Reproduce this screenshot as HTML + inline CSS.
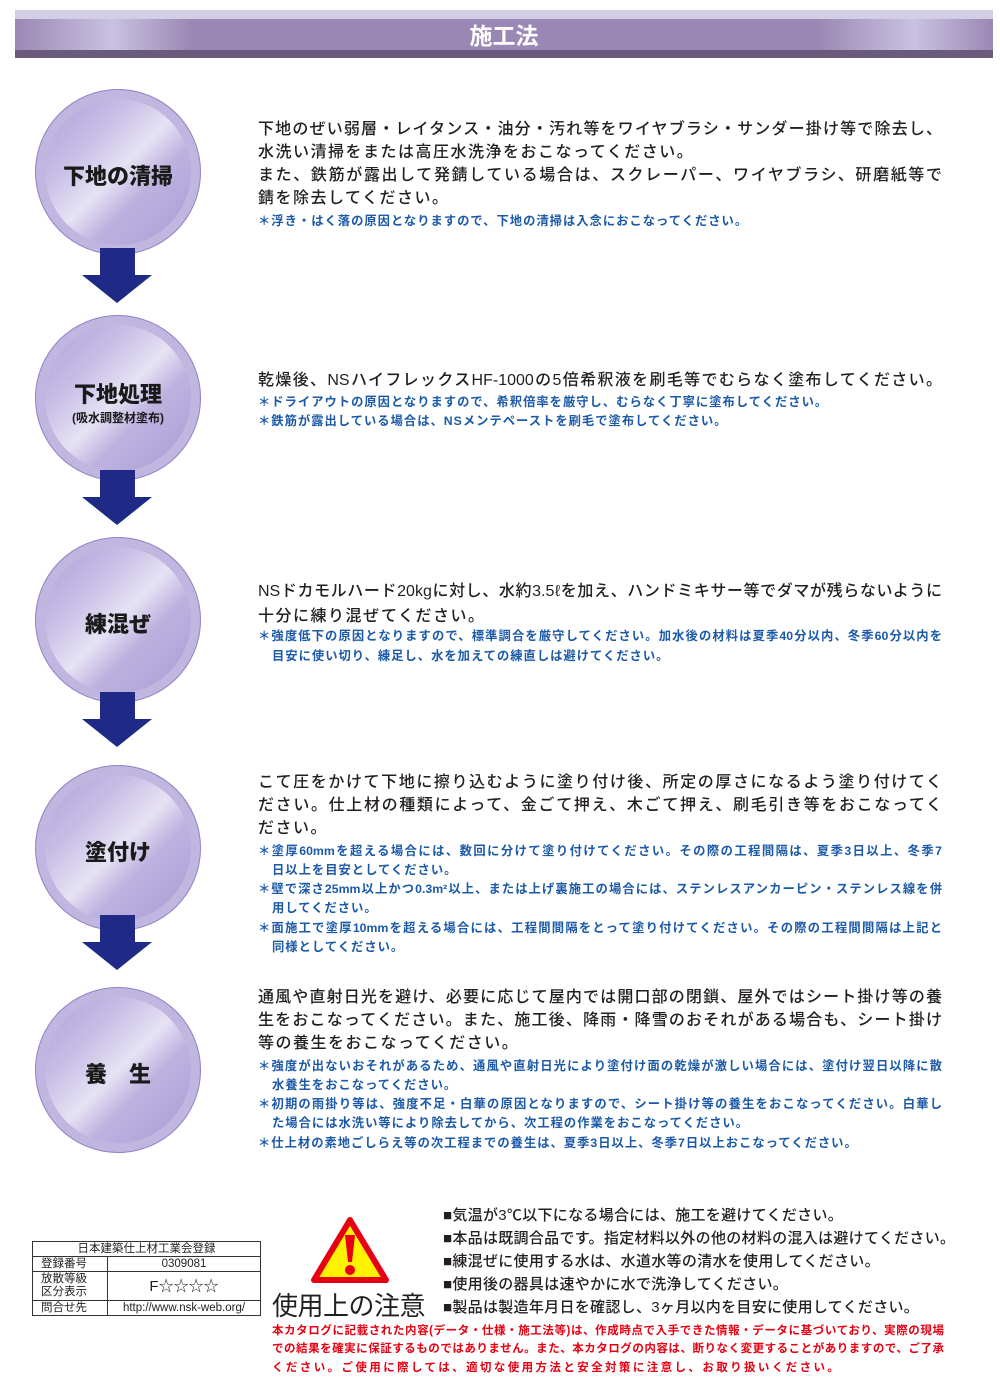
<!DOCTYPE html>
<html><head><meta charset="utf-8">
<style>
body{margin:0;background:#fff;width:1000px;height:1382px;position:relative;overflow:hidden;font-family:"Liberation Sans","Noto Sans CJK JP",sans-serif;}
.a{position:absolute;white-space:nowrap;}
.m{font-size:16px;color:#231f20;font-weight:500;line-height:20px;letter-spacing:1.5px;}
.n{font-size:12.3px;color:#1c5aa8;font-weight:700;line-height:16px;letter-spacing:1px;}
.r{font-size:11.5px;color:#e60012;font-weight:700;line-height:16px;letter-spacing:2.4px;}
.b{font-size:15px;color:#231f20;font-weight:500;line-height:20px;letter-spacing:0.3px;}
.j{text-align:justify;text-align-last:justify;letter-spacing:0;}
.circ{position:absolute;width:166px;height:166px;border-radius:50%;
background:radial-gradient(circle at 50% 50%,#c0b6e0 0 70%,#a99cd6 72%,#9d8fcc 100%);box-shadow:inset 0 0 0 1px #9486c6;}
.circ::before{content:"";position:absolute;left:10px;top:10px;right:10px;bottom:10px;border-radius:50%;
background:linear-gradient(135deg,#ad9fd8 0%,#c8bfe6 30%,#e6e2f4 50%,#bdb2df 65%,#a99cd4 100%);}
.ct{position:absolute;left:0;width:166px;text-align:center;font-weight:900;color:#1a1a1a;font-size:22px;z-index:2;}
.arr{position:absolute;left:82px;width:70px;height:55px;}
</style></head><body>
<div class="a" style="left:15px;top:10px;width:978px;height:48px;background:linear-gradient(90deg,#9a88b4 0%,#c9c2e0 10%,#9a88b4 18%,#9a88b4 82%,#c9c2e0 92%,#9a88b4 100%);"></div>
<div class="a" style="left:15px;top:10px;width:978px;height:9px;background:#d2cee6;"></div>
<div class="a" style="left:15px;top:50px;width:978px;height:8px;background:#6a5a7e;"></div>
<div class="a" style="left:0;top:17px;width:1008px;text-align:center;color:#fff;font-size:23px;font-weight:700;">施工法</div>

<div class="circ" style="left:35px;top:89px;"><div class="ct" style="top:70px;">下地の清掃</div></div>
<div class="circ" style="left:35px;top:315px;"><div class="ct" style="top:62px;">下地処理</div><div class="ct" style="top:94px;font-size:12px;font-weight:700;">(吸水調整材塗布)</div></div>
<div class="circ" style="left:35px;top:537px;"><div class="ct" style="top:70px;">練混ぜ</div></div>
<div class="circ" style="left:35px;top:765px;"><div class="ct" style="top:70px;">塗付け</div></div>
<div class="circ" style="left:35px;top:987px;"><div class="ct" style="top:70px;">養　生</div></div>

<svg class="arr" style="top:248px" viewBox="0 0 70 55"><polygon points="18,0 53,0 53,27 70,27 35,55 0,27 18,27" fill="#1e2a85"/></svg>
<svg class="arr" style="top:470px" viewBox="0 0 70 55"><polygon points="18,0 53,0 53,27 70,27 35,55 0,27 18,27" fill="#1e2a85"/></svg>
<svg class="arr" style="top:692px" viewBox="0 0 70 55"><polygon points="18,0 53,0 53,27 70,27 35,55 0,27 18,27" fill="#1e2a85"/></svg>
<svg class="arr" style="top:915px" viewBox="0 0 70 55"><polygon points="18,0 53,0 53,27 70,27 35,55 0,27 18,27" fill="#1e2a85"/></svg>

<div class="a m j" style="left:258px;top:120px;width:684px">下地のぜい弱層・レイタンス・油分・汚れ等をワイヤブラシ・サンダー掛け等で除去し、</div>
<div class="a m" style="left:258px;top:143px;">水洗い清掃をまたは高圧水洗浄をおこなってください。</div>
<div class="a m j" style="left:258px;top:166px;width:684px">また、鉄筋が露出して発錆している場合は、スクレーパー、ワイヤブラシ、研磨紙等で</div>
<div class="a m" style="left:258px;top:189px;">錆を除去してください。</div>
<div class="a n" style="left:258px;top:213px;">＊浮き・はく落の原因となりますので、下地の清掃は入念におこなってください。</div>

<div class="a m j" style="left:258px;top:371px;width:684px">乾燥後、NSハイフレックスHF-1000の5倍希釈液を刷毛等でむらなく塗布してください。</div>
<div class="a n" style="left:258px;top:394px;">＊ドライアウトの原因となりますので、希釈倍率を厳守し、むらなく丁寧に塗布してください。</div>
<div class="a n" style="left:258px;top:413px;">＊鉄筋が露出している場合は、NSメンテペーストを刷毛で塗布してください。</div>

<div class="a m j" style="left:258px;top:582px;width:684px">NSドカモルハード20kgに対し、水約3.5ℓを加え、ハンドミキサー等でダマが残らないように</div>
<div class="a m" style="left:258px;top:607px;">十分に練り混ぜてください。</div>
<div class="a n j" style="left:258px;top:628px;width:684px">＊強度低下の原因となりますので、標準調合を厳守してください。加水後の材料は夏季40分以内、冬季60分以内を</div>
<div class="a n" style="left:272px;top:648px;">目安に使い切り、練足し、水を加えての練直しは避けてください。</div>

<div class="a m j" style="left:258px;top:773px;width:684px">こて圧をかけて下地に擦り込むように塗り付け後、所定の厚さになるよう塗り付けてく</div>
<div class="a m j" style="left:258px;top:796px;width:684px">ださい。仕上材の種類によって、金ごて押え、木ごて押え、刷毛引き等をおこなってく</div>
<div class="a m" style="left:258px;top:819px;">ださい。</div>
<div class="a n j" style="left:258px;top:843px;width:684px">＊塗厚60mmを超える場合には、数回に分けて塗り付けてください。その際の工程間隔は、夏季3日以上、冬季7</div>
<div class="a n" style="left:272px;top:862px;">日以上を目安としてください。</div>
<div class="a n j" style="left:258px;top:881px;width:684px">＊壁で深さ25mm以上かつ0.3m²以上、または上げ裏施工の場合には、ステンレスアンカーピン・ステンレス線を併</div>
<div class="a n" style="left:272px;top:900px;">用してください。</div>
<div class="a n j" style="left:258px;top:920px;width:684px">＊面施工で塗厚10mmを超える場合には、工程間間隔をとって塗り付けてください。その際の工程間間隔は上記と</div>
<div class="a n" style="left:272px;top:939px;">同様としてください。</div>

<div class="a m j" style="left:258px;top:988px;width:684px">通風や直射日光を避け、必要に応じて屋内では開口部の閉鎖、屋外ではシート掛け等の養</div>
<div class="a m j" style="left:258px;top:1011px;width:684px">生をおこなってください。また、施工後、降雨・降雪のおそれがある場合も、シート掛け</div>
<div class="a m" style="left:258px;top:1034px;">等の養生をおこなってください。</div>
<div class="a n j" style="left:258px;top:1058px;width:684px">＊強度が出ないおそれがあるため、通風や直射日光により塗付け面の乾燥が激しい場合には、塗付け翌日以降に散</div>
<div class="a n" style="left:272px;top:1077px;">水養生をおこなってください。</div>
<div class="a n j" style="left:258px;top:1096px;width:684px">＊初期の雨掛り等は、強度不足・白華の原因となりますので、シート掛け等の養生をおこなってください。白華し</div>
<div class="a n" style="left:272px;top:1115px;">た場合には水洗い等により除去してから、次工程の作業をおこなってください。</div>
<div class="a n" style="left:258px;top:1135px;">＊仕上材の素地ごしらえ等の次工程までの養生は、夏季3日以上、冬季7日以上おこなってください。</div>

<table class="a" style="left:32px;top:1241px;width:229px;border-collapse:collapse;font-size:11.5px;color:#231f20;line-height:13px;">
<tr><td colspan="2" style="border:1px solid #333;text-align:center;height:14px;padding:0">日本建築仕上材工業会登録</td></tr>
<tr><td style="border:1px solid #333;width:66px;padding:0 0 0 8px;height:14px">登録番号</td><td style="border:1px solid #333;text-align:center;padding:0">0309081</td></tr>
<tr><td style="border:1px solid #333;padding:0 0 0 8px;height:28px">放散等級<br>区分表示</td><td style="border:1px solid #333;text-align:center;padding:0;font-size:15px">F☆☆☆☆</td></tr>
<tr><td style="border:1px solid #333;padding:0 0 0 8px;height:14px">問合せ先</td><td style="border:1px solid #333;text-align:center;padding:0">http://www.nsk-web.org/</td></tr>
</table>

<svg class="a" style="left:311px;top:1217px" width="78" height="66" viewBox="0 0 78 66">
<polygon points="39,3 75,63 3,63" fill="#fff200" stroke="#e60012" stroke-width="6" stroke-linejoin="round"/>
<polygon points="34,18 44,18 41,45 37,45" fill="#e60012"/>
<circle cx="39" cy="53" r="5" fill="#e60012"/>
</svg>
<div class="a" style="left:272px;top:1286px;font-size:26px;color:#231f20;letter-spacing:-0.5px;">使用上の注意</div>

<div class="a b" style="left:443px;top:1206px;">■気温が3℃以下になる場合には、施工を避けてください。</div>
<div class="a b" style="left:443px;top:1229px;">■本品は既調合品です。指定材料以外の他の材料の混入は避けてください。</div>
<div class="a b" style="left:443px;top:1252px;">■練混ぜに使用する水は、水道水等の清水を使用してください。</div>
<div class="a b" style="left:443px;top:1275px;">■使用後の器具は速やかに水で洗浄してください。</div>
<div class="a b" style="left:443px;top:1298px;">■製品は製造年月日を確認し、3ヶ月以内を目安に使用してください。</div>

<div class="a r j" style="left:272px;top:1323px;width:672px">本カタログに記載された内容(データ・仕様・施工法等)は、作成時点で入手できた情報・データに基づいており、実際の現場</div>
<div class="a r j" style="left:272px;top:1341px;width:672px">での結果を確実に保証するものではありません。また、本カタログの内容は、断りなく変更することがありますので、ご了承</div>
<div class="a r" style="left:272px;top:1360px;">ください。ご使用に際しては、適切な使用方法と安全対策に注意し、お取り扱いください。</div>
</body></html>
